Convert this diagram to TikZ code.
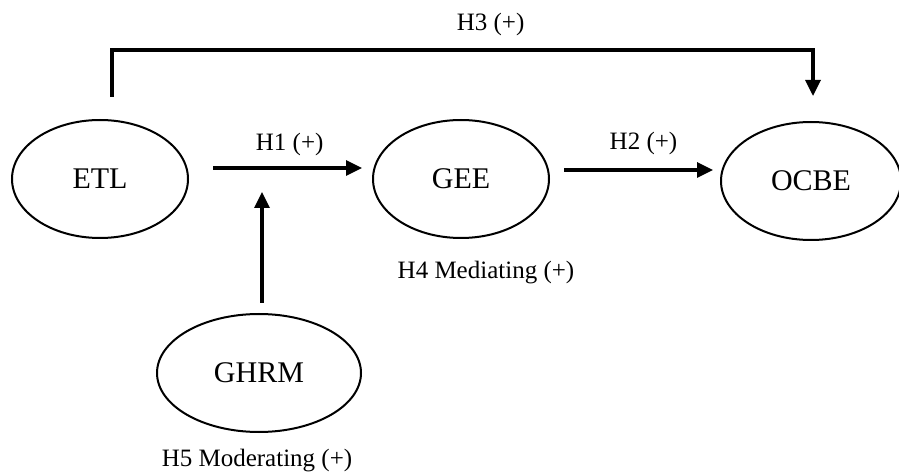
\documentclass[tikz,border=0pt]{standalone}
\usepackage{fontspec}
\setmainfont{Liberation Serif}
\usetikzlibrary{arrows.meta, positioning, shapes.geometric}

\begin{document}
\begin{tikzpicture}[
        var/.style={ellipse, draw=black, line width=2pt, inner sep=0pt,
                    minimum width=176pt, minimum height=118pt,
                    font=\fontsize{30}{36}\selectfont},
        lbl/.style={inner sep=0pt, font=\fontsize{25}{30}\selectfont},
        arr/.style={-{Triangle[length=16pt,width=15pt]}, line width=3.3pt, black},
        node distance=170pt]
      \useasboundingbox (0,0) rectangle (899pt,474pt);
      \node[var] (etl) at (100pt,295pt) {ETL};
      \node[var, right=183pt of etl] (gee) {GEE};
      \node[var, right=of gee, minimum width=180pt, yshift=-2pt] (ocbe) {OCBE};
      \node[var, minimum width=204pt] (ghrm) at (259pt,101pt) {GHRM};
      \draw[arr, shorten <=24pt, shorten >=10pt] ([yshift=11pt]etl.east) -- ([yshift=11pt]gee.west)
            node[lbl, pos=0.55, yshift=24pt] (h1) {H1 (+)}
            coordinate[pos=0.405] (h1mid);
      \draw[arr, shorten <=14pt, shorten >=7pt] ([yshift=9pt]gee.east) -- ([yshift=11pt]ocbe.west)
            node[lbl, pos=0.55, yshift=27pt] (h2) {H2 (+)};
      \draw[arr, shorten <=22pt, shorten >=25pt] ([xshift=12pt]etl.north)
            -- ([xshift=12pt,yshift=69pt]etl.north) -| ([xshift=2pt]ocbe.north)
            node[lbl, pos=0.27, yshift=26pt] (h3) {H3 (+)};
      \draw[arr, shorten <=10pt, shorten >=24pt] ([xshift=3pt]ghrm.north) -- ([xshift=3pt]ghrm.north |- h1mid);
      \node[lbl] (h4) at ([xshift=25pt,yshift=-34pt]gee.south) {H4 Mediating (+)};
      \node[lbl] (h5) at ([xshift=-2pt,yshift=-28pt]ghrm.south) {H5 Moderating (+)};
    \end{tikzpicture}
\end{document}
